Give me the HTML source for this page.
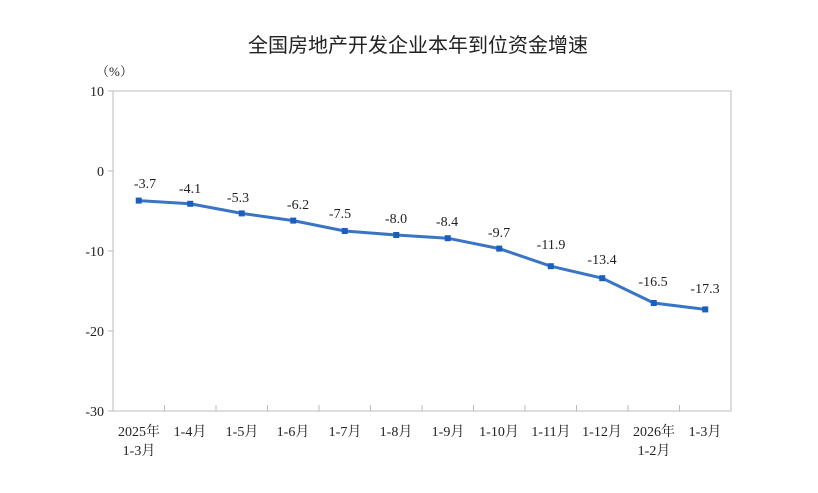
<!DOCTYPE html>
<html><head><meta charset="utf-8"><style>
body{margin:0;background:#fff;}
svg text{font-family:"Liberation Serif","Noto Serif CJK SC",serif;fill:#222;}
</style></head><body>
<svg width="818" height="488" viewBox="0 0 818 488" xmlns="http://www.w3.org/2000/svg">
<text x="418" y="52" text-anchor="middle" font-size="20" style="font-family:'Liberation Sans','Noto Sans CJK SC',sans-serif" fill="#111">全国房地产开发企业本年到位资金增速</text>
<text x="96" y="76" font-size="13">（%）</text>
<rect x="113" y="91" width="618" height="320" fill="none" stroke="#bbb" stroke-width="1"/>
<g stroke="#bbb"><line x1="108" y1="91" x2="113" y2="91"/><line x1="108" y1="171" x2="113" y2="171"/><line x1="108" y1="251" x2="113" y2="251"/><line x1="108" y1="331" x2="113" y2="331"/><line x1="108" y1="411" x2="113" y2="411"/>
<line x1="164.5" y1="405" x2="164.5" y2="411"/><line x1="216" y1="405" x2="216" y2="411"/><line x1="267.5" y1="405" x2="267.5" y2="411"/><line x1="319" y1="405" x2="319" y2="411"/><line x1="370.5" y1="405" x2="370.5" y2="411"/><line x1="422" y1="405" x2="422" y2="411"/><line x1="473.5" y1="405" x2="473.5" y2="411"/><line x1="525" y1="405" x2="525" y2="411"/><line x1="576.5" y1="405" x2="576.5" y2="411"/><line x1="628" y1="405" x2="628" y2="411"/><line x1="679.5" y1="405" x2="679.5" y2="411"/></g>
<g font-size="14" text-anchor="end"><text x="104" y="96">10</text><text x="104" y="176">0</text><text x="104" y="256">-10</text><text x="104" y="336">-20</text><text x="104" y="416">-30</text></g>
<g font-size="14" text-anchor="middle">
<text x="139" y="436">2025年</text><text x="139" y="455">1-3月</text>
<text x="190" y="436">1-4月</text><text x="242" y="436">1-5月</text><text x="293" y="436">1-6月</text><text x="345" y="436">1-7月</text><text x="396" y="436">1-8月</text><text x="448" y="436">1-9月</text><text x="499" y="436">1-10月</text><text x="551" y="436">1-11月</text><text x="602" y="436">1-12月</text>
<text x="654" y="436">2026年</text><text x="654" y="455">1-2月</text><text x="705" y="436">1-3月</text></g>
<polyline fill="none" stroke="#3a74c4" stroke-width="3" points="138.75,200.6 190.25,203.8 241.75,213.4 293.25,220.6 344.75,231 396.25,235 447.75,238.2 499.25,248.6 550.75,266.2 602.25,278.2 653.75,303 705.25,309.4"/>
<g fill="#1a5fc0"><rect x="135.75" y="197.6" width="6" height="6"/><rect x="187.25" y="200.8" width="6" height="6"/><rect x="238.75" y="210.4" width="6" height="6"/><rect x="290.25" y="217.6" width="6" height="6"/><rect x="341.75" y="228" width="6" height="6"/><rect x="393.25" y="232" width="6" height="6"/><rect x="444.75" y="235.2" width="6" height="6"/><rect x="496.25" y="245.6" width="6" height="6"/><rect x="547.75" y="263.2" width="6" height="6"/><rect x="599.25" y="275.2" width="6" height="6"/><rect x="650.75" y="300" width="6" height="6"/><rect x="702.25" y="306.4" width="6" height="6"/></g>
<g font-size="14" text-anchor="middle">
<text x="145" y="188">-3.7</text><text x="190" y="193">-4.1</text><text x="238" y="202">-5.3</text><text x="298" y="209">-6.2</text><text x="340" y="218">-7.5</text><text x="396" y="223">-8.0</text><text x="447" y="226">-8.4</text><text x="499" y="237">-9.7</text><text x="551" y="249">-11.9</text><text x="602" y="264">-13.4</text><text x="653" y="286">-16.5</text><text x="705" y="293">-17.3</text></g>
</svg></body></html>
